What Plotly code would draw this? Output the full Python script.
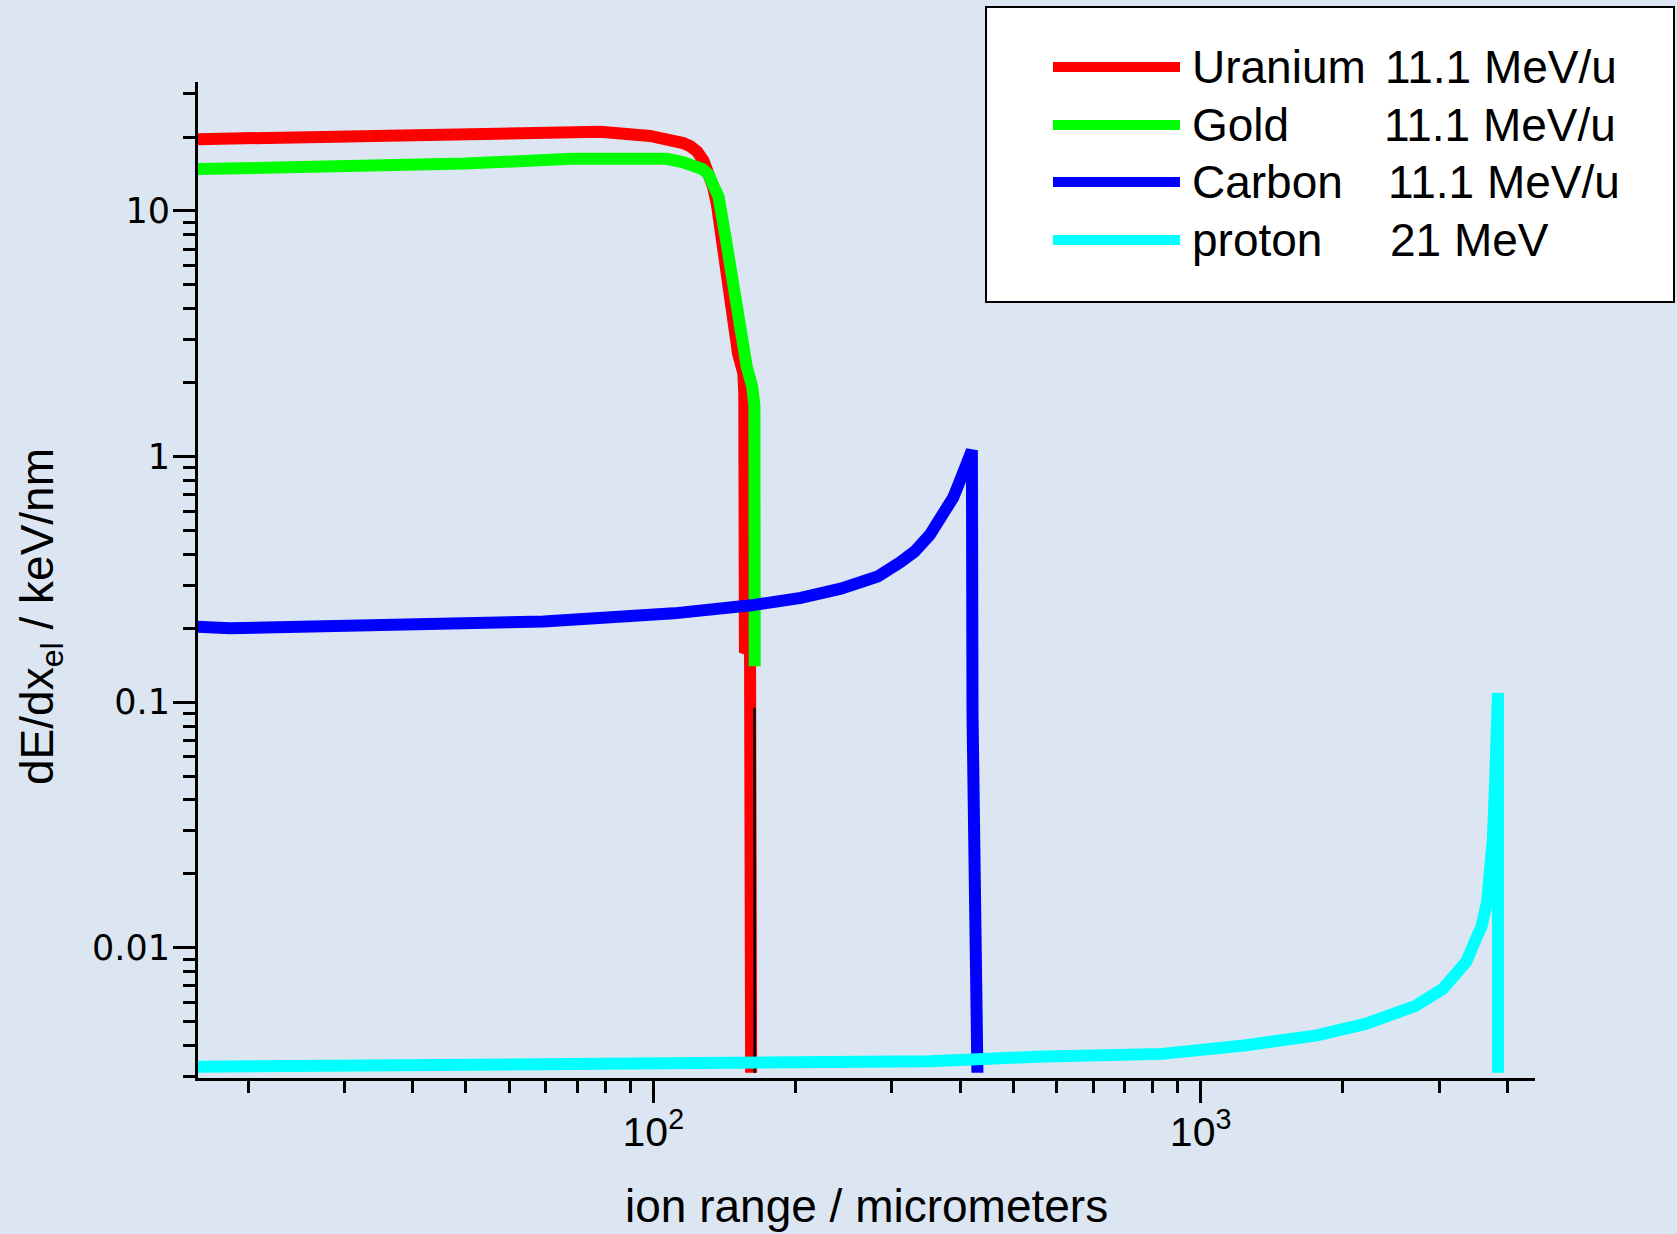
import plotly.graph_objects as go

# ---------------- data ----------------
uranium_x = [14.7, 30, 45, 61, 80, 98.6, 106, 113.4, 117, 120.4, 123.5, 126.1, 128.5, 130.6,
             133.5, 136.5, 139.6, 142.8, 146.0, 146.6, 147.0, 150.2, 150.9]
uranium_y = [19.6, 20.0, 20.4, 20.8, 21.0, 20.2, 19.7, 18.9, 18.3, 17.4, 16.0, 14.5, 12.6, 10.7,
             7.43, 4.85, 3.36, 2.63, 2.19, 1.83, 0.159, 0.17, 0.0031]

gold_x = [14.7, 30, 45.4, 71, 80, 96, 105.8, 113, 119.2, 123, 126.1, 129, 131.6, 135.4, 139.6,
          143.8, 148.1, 151.5, 153.0, 153.2]
gold_y = [14.8, 15.2, 15.6, 16.3, 16.4, 16.6, 16.3, 15.8, 15.3, 14.8, 14.1, 12.9, 11.4, 7.9, 5.15,
          3.36, 2.33, 1.94, 1.62, 0.14]

carbon_x = [14.7, 16.8, 63, 109, 151, 186, 220, 257, 282, 300, 320, 338, 353, 362, 370, 377,
            382, 383, 391]
carbon_y = [0.203, 0.200, 0.213, 0.23, 0.248, 0.266, 0.29, 0.325, 0.37, 0.41, 0.48, 0.57, 0.68,
            0.78, 0.89, 0.98, 1.06, 0.09, 0.0031]

proton_x = [14.7, 50, 100, 200, 320, 500, 850, 1200, 1630, 2000, 2470, 2770, 2920, 3060, 3180,
            3260, 3340, 3390, 3420, 3450, 3475, 3494, 3494]
proton_y = [0.00328, 0.00334, 0.0034, 0.00343, 0.00345, 0.0036, 0.0037, 0.0040, 0.0044, 0.0049,
            0.0058, 0.0068, 0.0078, 0.0088, 0.0108, 0.0122, 0.0155, 0.021, 0.028, 0.045, 0.07,
            0.109, 0.0031]

extra_x = [153.0, 153.2]
extra_y = [0.095, 0.0031]

series_names = ["Uranium", "Gold", "Carbon", "proton"]
series_energy = ["11.1 MeV/u", "11.1 MeV/u", "11.1 MeV/u", "21 MeV"]
series_colors = ["#ff0000", "#00ff00", "#0000ff", "#00ffff"]

y_major = [0.01, 0.1, 1, 10]
y_major_text = ["0.01", "0.1", "1", "10"]
x_major = [100, 1000]
x_major_text = ["10<sup>2</sup>", "10<sup>3</sup>"]

x_title = "ion range / micrometers"
y_title = "dE/dx<sub>el</sub> / keV/nm"

# ---------------- layout geometry ----------------
W, H = 1677, 1234
L, R, T, B = 198, 142, 82, 156
PW, PH = W - L - R, H - T - B
BG = "#dce6f2"
FONT = "Arial, Liberation Sans"


def xp(px):
    return (px - L) / PW


def yp(py):
    return (H - B - py) / PH


fig = go.Figure()
data = [(uranium_x, uranium_y), (gold_x, gold_y), (carbon_x, carbon_y), (proton_x, proton_y)]
for (xs, ys), name, col in zip(data, series_names, series_colors):
    fig.add_trace(go.Scatter(x=xs, y=ys, mode="lines", name=name,
                             line=dict(color=col, width=12), showlegend=False))
    if name == "Gold":
        fig.add_trace(go.Scatter(x=extra_x, y=extra_y, mode="lines", name="black line",
                                 line=dict(color="black", width=2.5), showlegend=False))

# minor ticks
y_minor = [m * 10 ** k for k in range(-3, 2) for m in range(2, 10)]
x_minor = [10 ** k * 10 * m / 11 for k in range(1, 4) for m in range(2, 11)]

fig.update_xaxes(type="log", range=[1.168, 3.611], showgrid=False, zeroline=False,
                 showline=True, linewidth=3, linecolor="black",
                 ticks="outside", ticklen=22, tickwidth=3, tickcolor="black",
                 tickvals=x_major, ticktext=x_major_text, ticklabelstandoff=-6,
                 tickfont=dict(family="Liberation Sans Narrow, " + FONT, size=41, color="black"),
                 minor=dict(tickvals=x_minor, ticks="outside", ticklen=12, tickwidth=3,
                            tickcolor="black", showgrid=False))
fig.update_yaxes(type="log", range=[-2.530, 1.525], showgrid=False, zeroline=False,
                 showline=True, linewidth=3, linecolor="black",
                 ticks="outside", ticklen=22, tickwidth=3, tickcolor="black",
                 tickvals=y_major, ticktext=y_major_text, ticklabelstandoff=-4,
                 tickfont=dict(family="DejaVu Sans", size=35, color="black"),
                 minor=dict(tickvals=y_minor, ticks="outside", ticklen=12, tickwidth=3,
                            tickcolor="black", showgrid=False))

shapes = [dict(type="rect", xref="paper", yref="paper", x0=xp(986), x1=xp(1674),
               y0=yp(302), y1=yp(7), line=dict(color="black", width=2), fillcolor="white")]
annotations = []
rows = [67, 125, 182, 240]
energy_x = [1383, 1382, 1386, 1388]
for i, (name, en, col) in enumerate(zip(series_names, series_energy, series_colors)):
    shapes.append(dict(type="line", xref="paper", yref="paper", x0=xp(1053), x1=xp(1180),
                       y0=yp(rows[i]), y1=yp(rows[i]), line=dict(color=col, width=10)))
    annotations.append(dict(xref="paper", yref="paper", x=xp(1190), y=yp(rows[i]),
                            xanchor="left", yanchor="middle", text=name, showarrow=False,
                            font=dict(family=FONT, size=46, color="black")))
    annotations.append(dict(xref="paper", yref="paper", x=xp(energy_x[i]), y=yp(rows[i]),
                            xanchor="left", yanchor="middle", text=en, showarrow=False,
                            font=dict(family=FONT, size=46, color="black")))

annotations.append(dict(xref="paper", yref="paper", x=xp(866), y=yp(1206),
                        xanchor="center", yanchor="middle", text=x_title, showarrow=False,
                        font=dict(family=FONT, size=46, color="black")))
annotations.append(dict(xref="paper", yref="paper", x=xp(40), y=yp(617), textangle=-90,
                        xanchor="center", yanchor="middle", text=y_title, showarrow=False,
                        font=dict(family=FONT, size=46, color="black")))

fig.update_layout(width=W, height=H, autosize=False,
                  margin=dict(l=L, r=R, t=T, b=B, pad=0),
                  paper_bgcolor=BG, plot_bgcolor=BG,
                  shapes=shapes, annotations=annotations, showlegend=False)

fig.write_html("out.html", config={"displayModeBar": False})

# remove the browser's default page margin so the figure fills the window exactly
with open("out.html", encoding="utf-8") as f:
    html = f.read()
html = html.replace("<head>", "<head><style>html,body{margin:0;padding:0;overflow:hidden;background:%s;}</style>" % BG, 1)
with open("out.html", "w", encoding="utf-8") as f:
    f.write(html)
